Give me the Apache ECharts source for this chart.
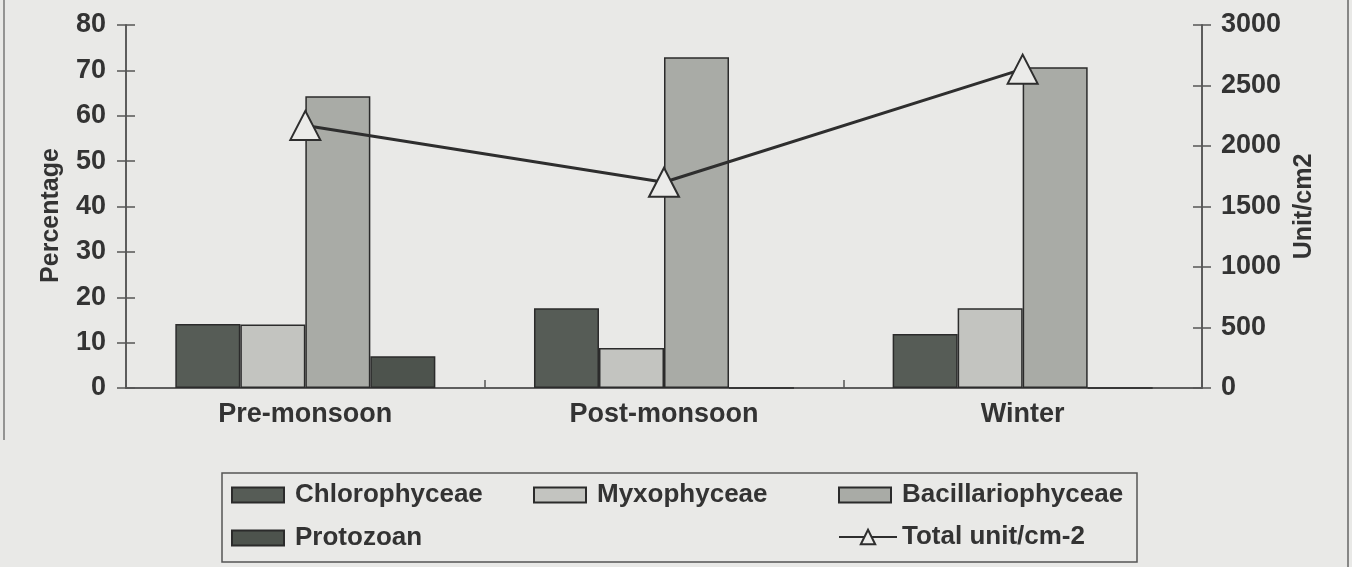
<!DOCTYPE html>
<html>
<head>
<meta charset="utf-8">
<script src="https://cdn.jsdelivr.net/npm/echarts@6/dist/echarts.min.js"></script>
<style>
  html, body { margin: 0; padding: 0; background: #e9e9e7; }
  #main { width: 1352px; height: 567px; }
</style>
</head>
<body>
<div id="main"></div>
<script>
const seasons = ['Pre-monsoon', 'Post-monsoon', 'Winter'];
const chlorophyceae = [14.1, 17.6, 11.9];
const myxophyceae = [14.0, 8.8, 17.6];
const bacillariophyceae = [64.3, 72.9, 70.7];
const protozoan = [7.0, 0, 0];
const totalUnits = [2170, 1700, 2635];
const percentTicks = [0, 80, 10];
const unitTicks = [0, 3000, 500];

const FONT = 'Liberation Sans';
const INK = '#333';
const AXIS = '#555';

const txt = { fontFamily: FONT, fontWeight: 'bold', fontSize: 27, color: INK };
const tickStyle = { color: AXIS, width: 1.5 };

function barSeries(name, data, color) {
    return {
        name: name,
        type: 'bar',
        data: data,
        barGap: '0%',
        barCategoryGap: '27.5%',
        itemStyle: { color: color, borderColor: '#2b2b2b', borderWidth: 1.5 }
    };
}

function oneLegend(name, left, top, isLine) {
    return {
        data: [name],
        left: left,
        top: top,
        icon: isLine ? null : 'rect',
        itemWidth: isLine ? 58 : 52,
        itemHeight: isLine ? 18 : 15,
        itemGap: 0,
        padding: 0,
        textStyle: Object.assign({}, txt, { fontSize: 26, padding: [0, 0, 0, isLine ? 0 : 6] }),
        selectedMode: false
    };
}

// twin axis used only to draw the inner half of each tick
function innerY(position, ticks) {
    return {
        type: 'value',
        position: position,
        min: ticks[0], max: ticks[1], interval: ticks[2],
        axisLine: { show: true, lineStyle: tickStyle },
        axisTick: { show: true, inside: true, length: 9, lineStyle: tickStyle },
        axisLabel: { show: false },
        splitLine: { show: false }
    };
}

const option = {
    backgroundColor: '#e9e9e7',
    animation: false,
    grid: { left: 126, right: 150, top: 25, bottom: 179 },
    legend: [
        oneLegend('Chlorophyceae', 231, 482),
        oneLegend('Myxophyceae', 533, 482),
        oneLegend('Bacillariophyceae', 838, 482),
        oneLegend('Protozoan', 231, 525),
        oneLegend('Total unit/cm-2', 838, 524, true)
    ],
    graphic: [
        {
            type: 'rect',
            shape: { x: 222, y: 473, width: 915, height: 89 },
            style: { fill: 'none', stroke: '#555', lineWidth: 1.5 }
        },
        {
            type: 'line',
            shape: { x1: 1348, y1: 0, x2: 1348, y2: 567 },
            style: { stroke: '#666', lineWidth: 1.5 }
        },
        {
            type: 'line',
            shape: { x1: 4, y1: 0, x2: 4, y2: 440 },
            style: { stroke: '#777', lineWidth: 1.5 }
        }
    ],
    xAxis: [
        {
            type: 'category',
            position: 'bottom',
            data: seasons,
            axisLine: { lineStyle: tickStyle },
            axisTick: { length: 9, lineStyle: tickStyle },
            axisLabel: Object.assign({}, txt, { margin: 13 })
        },
        {
            type: 'category',
            position: 'bottom',
            data: seasons,
            axisLine: { show: true, lineStyle: tickStyle },
            axisTick: { show: true, inside: true, length: 8, lineStyle: tickStyle },
            axisLabel: { show: false }
        }
    ],
    yAxis: [
        {
            type: 'value',
            position: 'left',
            min: percentTicks[0], max: percentTicks[1], interval: percentTicks[2],
            name: 'Percentage',
            nameLocation: 'middle',
            nameRotate: 90,
            nameGap: 62,
            nameTextStyle: Object.assign({}, txt, { fontSize: 25, padding: [0, 18, 0, 0] }),
            axisLine: { show: true, lineStyle: tickStyle },
            axisTick: { show: true, length: 9, lineStyle: tickStyle },
            axisLabel: Object.assign({}, txt, { margin: 20 }),
            splitLine: { show: false }
        },
        {
            type: 'value',
            position: 'right',
            min: unitTicks[0], max: unitTicks[1], interval: unitTicks[2],
            name: 'Unit/cm2',
            nameLocation: 'middle',
            nameRotate: 90,
            nameGap: 88,
            nameTextStyle: Object.assign({}, txt, { fontSize: 25 }),
            axisLine: { show: true, lineStyle: tickStyle },
            axisTick: { show: true, length: 9, lineStyle: tickStyle },
            axisLabel: Object.assign({}, txt, { margin: 19, formatter: v => String(v) }),
            splitLine: { show: false }
        },
        innerY('left', percentTicks),
        innerY('right', unitTicks)
    ],
    series: [
        barSeries('Chlorophyceae', chlorophyceae, '#565c56'),
        barSeries('Myxophyceae', myxophyceae, '#c3c4c0'),
        barSeries('Bacillariophyceae', bacillariophyceae, '#a9aba6'),
        barSeries('Protozoan', protozoan, '#4d534d'),
        {
            name: 'Total unit/cm-2',
            type: 'line',
            yAxisIndex: 1,
            data: totalUnits,
            symbol: 'triangle',
            symbolSize: [30, 29],
            lineStyle: { color: '#2e2e2e', width: 3 },
            itemStyle: { color: '#ebebe9', borderColor: '#2e2e2e', borderWidth: 2 },
            z: 5
        }
    ]
};

const myChart = echarts.init(document.getElementById('main'));
myChart.setOption(option);
</script>
</body>
</html>
